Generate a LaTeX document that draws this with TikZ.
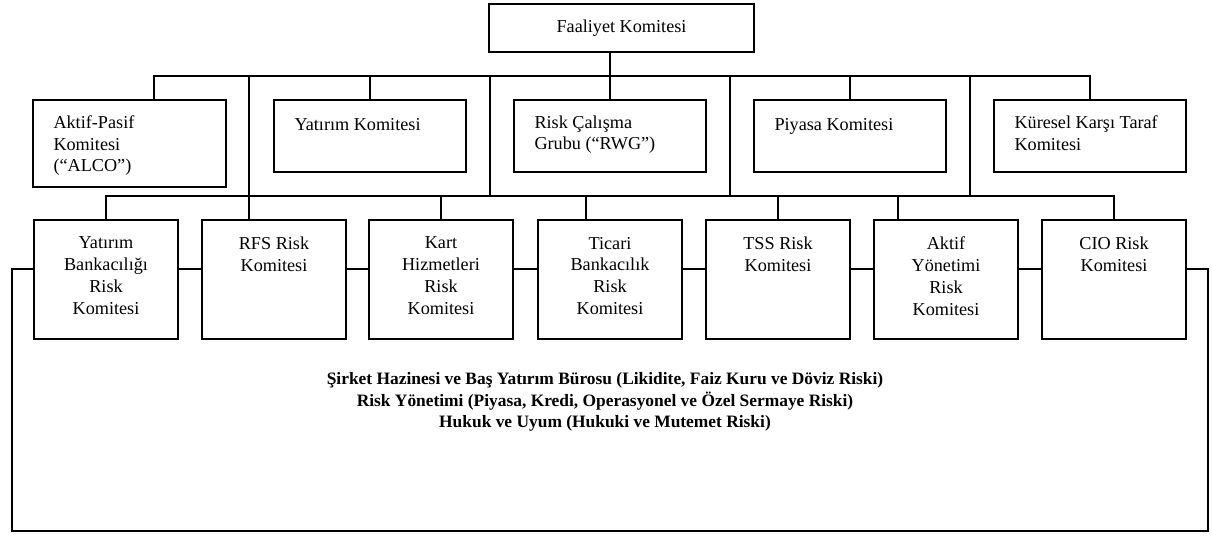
\documentclass[tikz,border=0pt]{standalone}
\usepackage{fontspec}
\setmainfont{Liberation Serif}
\begin{document}
\begin{tikzpicture}[x=1pt,y=-1pt,
  box/.style={draw, line width=1.4pt, inner sep=0pt},
  ltwo/.style={box, minimum width=192pt, minimum height=72pt},
  lthree/.style={box, minimum width=144pt, minimum height=119pt},
  ln/.style={line width=1.4pt},
  txt/.style={inner sep=0pt, font=\fontsize{18.2}{21.8}\selectfont},
  ltxt/.style={txt, align=left, anchor=north west, execute at begin node=\strut},
  ctxt/.style={txt, align=center, anchor=north, execute at begin node=\strut},
]
\useasboundingbox (0,0) rectangle (1212,536);

% top
\node[box, minimum width=265pt, minimum height=48pt, font=\fontsize{18.2}{21.8}\selectfont] (fk) at (621.5,28) {Faaliyet Komitesi};

% level 2
\node[box, minimum width=193pt, minimum height=87pt] (ap) at (129.5,143.5) {};
\node[ltwo] (yk) at (370,136) {};
\node[ltwo] (rc) at (610,136) {};
\node[ltwo] (pk) at (850,136) {};
\node[ltwo] (kk) at (1090,136) {};

\node[ltxt] (apt) at ([xshift=21pt,yshift=-16pt]ap.north west) {Aktif-Pasif\\Komitesi\\(“ALCO”)};
\node[ltxt] (ykt) at ([xshift=21pt,yshift=-16pt]yk.north west) {Yatırım Komitesi};
\node[ltxt] (rct) at ([xshift=21pt,yshift=-16pt]rc.north west) {Risk Çalışma\\Grubu (“RWG”)};
\node[ltxt] (pkt) at ([xshift=21pt,yshift=-16pt]pk.north west) {Piyasa Komitesi};
\node[ltxt] (kkt) at ([xshift=21pt,yshift=-16pt]kk.north west) {Küresel Karşı Taraf\\Komitesi};

% level 3
\node[lthree] (yb) at (106,279.5) {};
\node[lthree] (rfs) at (274,279.5) {};
\node[lthree] (kart) at (441,279.5) {};
\node[lthree] (tic) at (610,279.5) {};
\node[lthree] (tss) at (778,279.5) {};
\node[lthree] (ay) at (946,279.5) {};
\node[lthree] (cio) at (1114,279.5) {};

\node[ctxt] (ybt) at ([yshift=-17.5pt]yb.north) {Yatırım\\Bankacılığı\\Risk\\Komitesi};
\node[ctxt] (rfst) at ([yshift=-17.5pt]rfs.north) {RFS Risk\\Komitesi};
\node[ctxt] (kartt) at ([yshift=-17.5pt]kart.north) {Kart\\Hizmetleri\\Risk\\Komitesi};
\node[ctxt] (tict) at ([yshift=-17.5pt]tic.north) {Ticari\\Bankacılık\\Risk\\Komitesi};
\node[ctxt] (tsst) at ([yshift=-17.5pt]tss.north) {TSS Risk\\Komitesi};
\node[ctxt] (ayt) at ([yshift=-17.5pt]ay.north) {Aktif\\Yönetimi\\Risk\\Komitesi};
\node[ctxt] (ciot) at ([yshift=-17.5pt]cio.north) {CIO Risk\\Komitesi};

% bottom text
\node[inner sep=0pt, align=center, font=\fontsize{17.4}{21.8}\selectfont\bfseries] (bt) at (605,402)
  {Şirket Hazinesi ve Baş Yatırım Bürosu (Likidite, Faiz Kuru ve Döviz Riski)\\
   Risk Yönetimi (Piyasa, Kredi, Operasyonel ve Özel Sermaye Riski)\\
   Hukuk ve Uyum (Hukuki ve Mutemet Riski)};

% helper coordinates
\coordinate (apx) at (154,76);
\coordinate (v1) at (249,76);
\coordinate (v2) at (490,76);
\coordinate (v3) at (730,76);
\coordinate (v4) at (970,76);
\coordinate (lb) at (0,196);
\coordinate (ticx) at (586,196);
\coordinate (ayx) at (898,196);
\coordinate (lk) at (0,269);
\coordinate (fl) at (12,531);
\coordinate (fr) at (1208,531);

% top bus
\draw[ln] (fk.south -| rc.north) -- (rc.north);
\draw[ln] (ap.north -| apx) -- (apx) -- (kk.north |- apx) -- (kk.north);
\draw[ln] (yk.north) -- (yk.north |- apx);
\draw[ln] (pk.north) -- (pk.north |- apx);

% verticals from top bus to lower bus
\draw[ln] (v1) -- (v1 |- rfs.north);
\draw[ln] (v2) -- (v2 |- lb);
\draw[ln] (v3) -- (v3 |- lb);
\draw[ln] (v4) -- (v4 |- lb);

% lower bus
\draw[ln] (yb.north) -- (yb.north |- lb) -- (cio.north |- lb) -- (cio.north);
\draw[ln] (kart.north) -- (kart.north |- lb);
\draw[ln] (tss.north) -- (tss.north |- lb);
\draw[ln] (ticx) -- (ticx |- tic.north);
\draw[ln] (ayx) -- (ayx |- ay.north);

% links between level-3 boxes
\draw[ln] (yb.east |- lk) -- (rfs.west |- lk);
\draw[ln] (rfs.east |- lk) -- (kart.west |- lk);
\draw[ln] (kart.east |- lk) -- (tic.west |- lk);
\draw[ln] (tic.east |- lk) -- (tss.west |- lk);
\draw[ln] (tss.east |- lk) -- (ay.west |- lk);
\draw[ln] (ay.east |- lk) -- (cio.west |- lk);

% outer frame
\draw[ln] (yb.west |- lk) -- (fl |- lk) -- (fl) -- (fr) -- (fr |- lk) -- (cio.east |- lk);
\end{tikzpicture}
\end{document}
